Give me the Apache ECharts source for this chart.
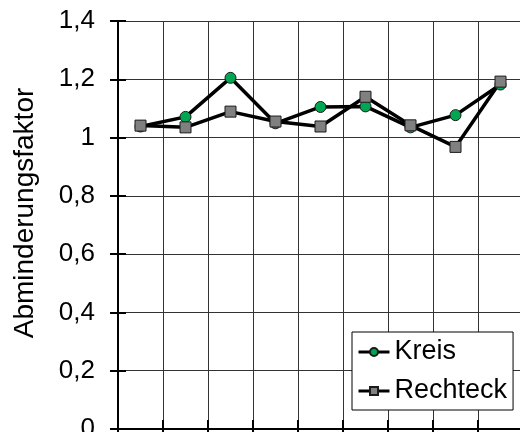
<!DOCTYPE html>
<html>
<head>
<meta charset="utf-8">
<script src="https://cdn.jsdelivr.net/npm/echarts@6/dist/echarts.min.js"></script>
<style>
html,body{margin:0;padding:0;background:#fff;}
#c{width:520px;height:432px;}
</style>
</head>
<body>
<div id="c"></div>
<script>
var categories = ['1','2','3','4','5','6','7','8','9'];
var kreis = [1.038, 1.071, 1.205, 1.049, 1.105, 1.107, 1.035, 1.077, 1.182];
var rechteck = [1.041, 1.035, 1.089, 1.055, 1.038, 1.140, 1.042, 0.968, 1.192];
var yTicks = {min: 0, max: 1.4, interval: 0.2};
var yTitle = 'Abminderungsfaktor';
var seriesNames = ['Kreis', 'Rechteck'];

var FONT = '"Liberation Sans", Arial, sans-serif';
var chart = echarts.init(document.getElementById('c'), null, {renderer: 'canvas'});
function fmt(v){ return String(+(+v).toFixed(1)).replace('.', ','); }
chart.setOption({
  animation: false,
  backgroundColor: '#fff',
  grid: {left: 118, top: 21, width: 405, height: 408, containLabel: false, outerBoundsMode: 'none'},
  legend: {
    orient: 'vertical', left: 352, top: 332,
    padding: [5, 6, 4, 5],
    itemGap: 9, itemWidth: 31, itemHeight: 10,
    backgroundColor: '#fff', borderColor: '#000', borderWidth: 1,
    lineStyle: {color: '#000', width: 3},
    textStyle: {fontFamily: FONT, fontSize: 27, color: '#000', lineHeight: 30},
    data: seriesNames
  },
  xAxis: [{
    type: 'category', data: categories, boundaryGap: true, position: 'bottom',
    axisLine: {show: true, lineStyle: {color: '#000', width: 2}},
    axisTick: {show: true, inside: true, length: 9, interval: 0, lineStyle: {color: '#000', width: 2}},
    axisLabel: {show: false},
    splitLine: {show: true, interval: 0, lineStyle: {color: '#333', width: 1}}
  }, {
    type: 'category', data: categories, boundaryGap: true, position: 'bottom',
    axisLine: {show: false},
    axisTick: {show: true, inside: false, length: 9, interval: 0, lineStyle: {color: '#000', width: 2}},
    axisLabel: {show: false},
    splitLine: {show: false}
  }],
  yAxis: [{
    type: 'value', position: 'left', min: yTicks.min, max: yTicks.max, interval: yTicks.interval,
    name: yTitle, nameLocation: 'middle', nameGap: 79, nameRotate: 90,
    nameTextStyle: {fontFamily: FONT, fontSize: 28, color: '#000', padding: [0, 0, 0, 24]},
    axisLine: {show: true, lineStyle: {color: '#000', width: 2}},
    axisTick: {show: true, inside: false, length: 8, lineStyle: {color: '#000', width: 2}},
    axisLabel: {show: true, margin: 23, formatter: fmt, fontFamily: FONT, fontSize: 26, color: '#000'},
    splitLine: {show: true, lineStyle: {color: '#333', width: 1}}
  }, {
    type: 'value', position: 'left', offset: 0, min: yTicks.min, max: yTicks.max, interval: yTicks.interval,
    axisLine: {show: false},
    axisTick: {show: true, inside: true, length: 8, lineStyle: {color: '#000', width: 2}},
    axisLabel: {show: false},
    splitLine: {show: false}
  }],
  series: [{
    name: seriesNames[0], type: 'line', data: kreis,
    symbol: 'circle', symbolSize: 11,
    lineStyle: {color: '#000', width: 3.5},
    itemStyle: {color: '#00a651', borderColor: '#1a1a1a', borderWidth: 1}
  }, {
    name: seriesNames[1], type: 'line', data: rechteck,
    symbol: 'rect', symbolSize: 11,
    lineStyle: {color: '#000', width: 3.5},
    itemStyle: {color: '#808080', borderColor: '#1a1a1a', borderWidth: 1}
  }]
});
</script>
</body>
</html>
